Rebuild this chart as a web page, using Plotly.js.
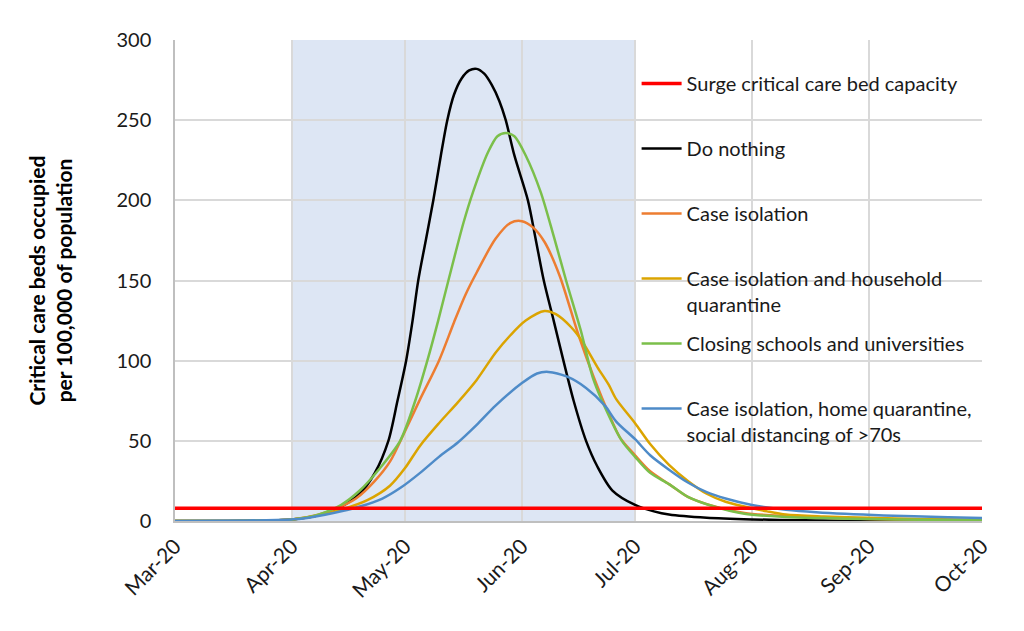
<!DOCTYPE html>
<html>
<head>
<meta charset="utf-8">
<script src="https://cdn.plot.ly/plotly-3.0.1.min.js"></script>
<style>html,body{margin:0;padding:0;background:#fff;}#chart{width:1024px;height:631px;}</style>
</head>
<body>
<div id="chart"></div>
<script>
// Series names (single-line entries padded so every legend slot has equal height)
const seriesNames = [
  "Surge critical care bed capacity<br>&nbsp;",
  "Do nothing<br>&nbsp;",
  "Case isolation<br>&nbsp;",
  "Case isolation and household<br>quarantine",
  "Closing schools and universities<br>&nbsp;",
  "Case isolation, home quarantine,<br>social distancing of >70s"
];

// Surge capacity (horizontal line)
const surgeDates = ["2020-03-01", "2020-10-01"];
const surgeValues = [8, 8];

// Do nothing
const doNothingDates = ["2020-03-01","2020-03-20","2020-04-01","2020-04-08","2020-04-14","2020-04-19","2020-04-23","2020-04-26 14:00","2020-04-29","2020-05-01 07:00","2020-05-03","2020-05-04 12:00","2020-05-06 12:00","2020-05-08 12:00","2020-05-10 12:00","2020-05-12 05:00","2020-05-14","2020-05-16","2020-05-18","2020-05-20","2020-05-22","2020-05-24","2020-05-26","2020-05-27 17:00","2020-05-30","2020-06-02 14:00","2020-06-04 17:00","2020-06-06 19:00","2020-06-09 10:00","2020-06-12","2020-06-14 17:00","2020-06-18","2020-06-21","2020-06-25","2020-07-01","2020-07-06","2020-07-10","2020-07-20","2020-08-01","2020-08-15","2020-09-01","2020-10-01"];
const doNothingValues = [0,0.2,1,3.5,9,17,30,50,75,100,125,150,175,200,228,250,266,276,281,282,279,272,262,250,228,200,175,150,125,100,75,50,34,19,10,6,4,2,1,0.4,0.1,0];

// Case isolation
const caseIsoDates = ["2020-03-01","2020-03-20","2020-04-01","2020-04-08","2020-04-13","2020-04-18","2020-04-23","2020-04-27","2020-05-01","2020-05-05","2020-05-10","2020-05-14","2020-05-17","2020-05-20","2020-05-25","2020-05-29","2020-06-01","2020-06-04","2020-06-07","2020-06-11","2020-06-16","2020-06-20","2020-06-24","2020-06-27","2020-07-01","2020-07-05","2020-07-10","2020-07-15","2020-07-20","2020-07-30","2020-08-10","2020-08-18","2020-09-01","2020-09-15","2020-10-01"];
const caseIsoValues = [0,0.2,1,4,8,14,25,37,56,76,100,124,141,155,176,186,187,183,174,153,116,90,67,52,41,31,23,15,10.5,5,3,2.2,1.3,0.8,0.5];

// Case isolation and household quarantine
const householdDates = ["2020-03-01","2020-03-20","2020-04-01","2020-04-08","2020-04-14","2020-04-21","2020-04-27","2020-05-01","2020-05-05","2020-05-10","2020-05-15","2020-05-20","2020-05-25","2020-05-29","2020-06-02","2020-06-07","2020-06-10","2020-06-14","2020-06-17","2020-06-21","2020-06-24","2020-06-26","2020-07-01","2020-07-05","2020-07-10","2020-07-15","2020-07-20","2020-07-25","2020-07-30","2020-08-05","2020-08-10","2020-08-20","2020-09-01","2020-09-15","2020-10-01"];
const householdValues = [0,0.2,1,3.5,7,13,22,33,47,61,74,88,105,116,125,131,129,121,112,96,85,76,61,48,35,25,17,12,9,6,4,2.8,2,1.2,0.8];

// Closing schools and universities
const schoolsDates = ["2020-03-01","2020-03-20","2020-04-01","2020-04-08","2020-04-14","2020-04-19","2020-04-24","2020-04-29 17:00","2020-05-03 17:00","2020-05-06 22:00","2020-05-09 19:00","2020-05-12 12:00","2020-05-16 12:00","2020-05-19","2020-05-23","2020-05-25 12:00","2020-05-27 17:00","2020-05-30","2020-06-02","2020-06-06","2020-06-09 12:00","2020-06-12 17:00","2020-06-16 14:00","2020-06-20","2020-06-24 14:00","2020-06-27 12:00","2020-07-01","2020-07-05","2020-07-10","2020-07-15","2020-07-20 14:00","2020-07-30","2020-08-10","2020-08-20","2020-09-01","2020-09-15","2020-10-01"];
const schoolsValues = [0,0.2,1,4,10,19,32,50,75,100,125,150,186,205,230,240,242,240,228,205,177,150,119,88,63,50,40,30,23,15,10,4.5,2.5,1.8,1.2,0.8,0.5];

// Case isolation, home quarantine, social distancing of >70s
const distancingDates = ["2020-03-01","2020-03-20","2020-04-01","2020-04-04","2020-04-12","2020-04-19","2020-04-25","2020-04-30","2020-05-05","2020-05-10","2020-05-15","2020-05-20","2020-05-25","2020-06-01","2020-06-05","2020-06-08","2020-06-13","2020-06-18","2020-06-23","2020-06-26","2020-07-01","2020-07-05","2020-07-10","2020-07-15","2020-07-20","2020-07-25","2020-08-01","2020-08-10","2020-08-18","2020-09-05","2020-09-22","2020-10-01"];
const distancingValues = [0,0.3,1,1.5,5,9,14,21,30,40,49,60,72,86,92,93,90,83,72,62,51,41,32,24,18,14,10,7,5.5,3.5,2.3,1.8];

// Shaded period
const shadeStart = "2020-04-01";
const shadeEnd = "2020-07-01";

const colors = ["#FF0000", "#000000", "#ED7D31", "#DBA400", "#7BBF4A", "#4E8BC8"];

function curve(i, x, y, width, rank) {
  return {
    type: "scatter", mode: "lines", name: seriesNames[i],
    x: x, y: y,
    line: {color: colors[i], width: width, shape: "spline", smoothing: 0.8},
    legendgroup: "g" + i, legendrank: rank,
    hoverinfo: "x+y"
  };
}

const traces = [
  curve(1, doNothingDates, doNothingValues, 2.5, 2),
  curve(2, caseIsoDates, caseIsoValues, 2.5, 3),
  curve(3, householdDates, householdValues, 2.5, 4),
  curve(4, schoolsDates, schoolsValues, 2.5, 5),
  curve(5, distancingDates, distancingValues, 2.5, 6),
  {type: "scatter", mode: "lines", name: seriesNames[0], x: surgeDates, y: surgeValues,
   line: {color: colors[0], width: 3.5}, legendgroup: "g0", legendrank: 1}
];

const fontFam = "Lato, 'Open Sans', sans-serif";

const layout = {
  width: 1024, height: 631,
  margin: {l: 175, r: 42, t: 40, b: 110},
  paper_bgcolor: "#ffffff", plot_bgcolor: "#ffffff",
  font: {family: fontFam, size: 20, color: "#1a1a1a"},
  showlegend: true,
  legend: {
    x: 0.572, y: 0.95, xanchor: "left", yanchor: "top",
    bgcolor: "rgba(0,0,0,0)", borderwidth: 0,
    font: {family: fontFam, size: 20, color: "#1a1a1a"},
    tracegroupgap: 10, valign: "top", itemwidth: 40
  },
  xaxis: {
    type: "date",
    range: ["2020-03-01", "2020-10-01"],
    tick0: "2020-03-01", dtick: "M1",
    tickformat: "%b-%y", tickangle: -45,
    showgrid: true, gridcolor: "#d9d9d9", gridwidth: 1.5,
    showline: true, linecolor: "#bfbfbf", linewidth: 1.5,
    zeroline: false, ticks: "", ticklabelstandoff: 3,
    tickfont: {family: fontFam, size: 21, color: "#1a1a1a"}
  },
  yaxis: {
    range: [0, 300], dtick: 50, tick0: 0,
    showgrid: true, gridcolor: "#d9d9d9", gridwidth: 1.5,
    showline: true, linecolor: "#bfbfbf", linewidth: 1.5,
    zeroline: false, ticks: "", ticklabelstandoff: 18,
    tickfont: {family: fontFam, size: 20, color: "#1a1a1a"},
    title: {
      text: "<b>Critical care beds occupied<br>per 100,000 of population</b>",
      font: {family: fontFam, size: 21, color: "#000000"},
      standoff: 38
    }
  },
  shapes: [{
    type: "rect", xref: "x", yref: "paper",
    x0: shadeStart, x1: shadeEnd, y0: 0, y1: 1,
    fillcolor: "rgba(68,114,196,0.18)", line: {width: 0},
    layer: "between"
  }]
};

Plotly.newPlot("chart", traces, layout, {displayModeBar: false});
</script>
</body>
</html>
